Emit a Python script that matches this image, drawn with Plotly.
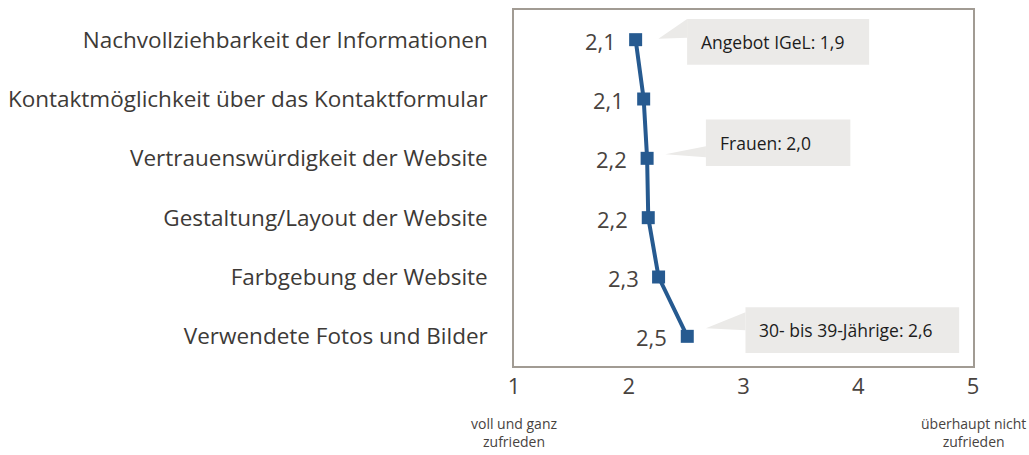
import plotly.graph_objects as go

categories = [
    "Nachvollziehbarkeit der Informationen",
    "Kontaktmöglichkeit über das Kontaktformular",
    "Vertrauenswürdigkeit der Website",
    "Gestaltung/Layout der Website",
    "Farbgebung der Website",
    "Verwendete Fotos und Bilder",
]
values = [2.06, 2.13, 2.16, 2.17, 2.26, 2.51]
x_ticks = [1, 2, 3, 4, 5]
x_ticklabels = ["1", "2", "3", "4", "5"]
scale_low = "voll und ganz<br>zufrieden"
scale_high = "überhaupt nicht<br>zufrieden"
callout_texts = ["Angebot IGeL: 1,9", "Frauen: 2,0", "30- bis 39-Jährige: 2,6"]

W, H = 1029, 455
L, R, T, B = 509, 973, 8, 366
FONT = "Open Sans"
LINE_COLOR = "#265a90"
TXT = "#48433f"


def px(x):
    return (x - L) / (R - L)


def py(y):
    return (B - y) / (B - T)


labels = [f"{v:.1f}".replace(".", ",") for v in values]

fig = go.Figure()
fig.add_trace(go.Scatter(
    x=values, y=categories, mode="lines+markers",
    line=dict(color=LINE_COLOR, width=4),
    marker=dict(symbol="square", size=13, color=LINE_COLOR),
    cliponaxis=False, hoverinfo="skip",
))

shapes = []
annotations = []

# data labels left of the markers
for v, c, lab in zip(values, categories, labels):
    annotations.append(dict(xref="x", yref="y", x=v, y=c, text=lab, showarrow=False,
                            xanchor="right", yanchor="middle", xshift=-18, yshift=-1,
                            font=dict(family=FONT, size=22, color=TXT)))

# callouts (box, pointer, text), pixel geometry
boxes = [(684, 17, 868, 63), (703, 118, 849, 165), (743, 307, 959, 353)]
tris = [
    [(684, 17), (655, 37), (684, 36)],
    [(703, 145), (662, 153), (703, 156)],
    [(743, 312), (703, 328), (743, 330)],
]
for (x0, y0, x1, y1), tri, txt in zip(boxes, tris, callout_texts):
    shapes.append(dict(type="rect", xref="paper", yref="paper",
                       x0=px(x0), x1=px(x1), y0=py(y1), y1=py(y0),
                       fillcolor="#ebeae8", line=dict(width=0), layer="below"))
    path = "M " + " L ".join(f"{px(a)},{py(b)}" for a, b in tri) + " Z"
    shapes.append(dict(type="path", xref="paper", yref="paper", path=path,
                       fillcolor="#ebeae8", line=dict(width=0), layer="below"))
    annotations.append(dict(xref="paper", yref="paper", x=px(x0 + 12), y=py((y0 + y1) / 2),
                            text=txt, showarrow=False, xanchor="left", yanchor="middle",
                            font=dict(family=FONT, size=17.5, color="#1c1c1c")))

annotations.append(dict(xref="x", yref="paper", x=x_ticks[0], y=py(412), text=scale_low,
                        showarrow=False, xanchor="center", yanchor="top", align="center",
                        font=dict(family=FONT, size=14, color=TXT)))
annotations.append(dict(xref="x", yref="paper", x=x_ticks[-1], y=py(412), text=scale_high,
                        showarrow=False, xanchor="center", yanchor="top", align="center",
                        font=dict(family=FONT, size=14, color=TXT)))

fig.update_layout(
    width=W, height=H,
    margin=dict(l=L, r=W - R, t=T, b=H - B, pad=0),
    paper_bgcolor="white", plot_bgcolor="white",
    showlegend=False, hovermode=False,
    shapes=shapes, annotations=annotations,
    xaxis=dict(range=[1, 5], tickvals=x_ticks, ticktext=x_ticklabels,
               showgrid=False, zeroline=False, showline=True, mirror=True,
               linecolor="#a19b93", linewidth=1.5, ticks="",
               tickfont=dict(family=FONT, size=22, color=TXT), ticklabelstandoff=0),
    yaxis=dict(type="category", categoryorder="array", categoryarray=categories,
               range=[5.5, -0.5], showgrid=False, zeroline=False,
               showline=True, mirror=True, linecolor="#a19b93", linewidth=1.5, ticks="",
               tickfont=dict(family=FONT, size=22.5, color="#3d3a37"), ticklabelstandoff=20),
)

fig.write_html("out.html", config={"displayModeBar": False},
               post_script="document.body.style.margin='0';")
